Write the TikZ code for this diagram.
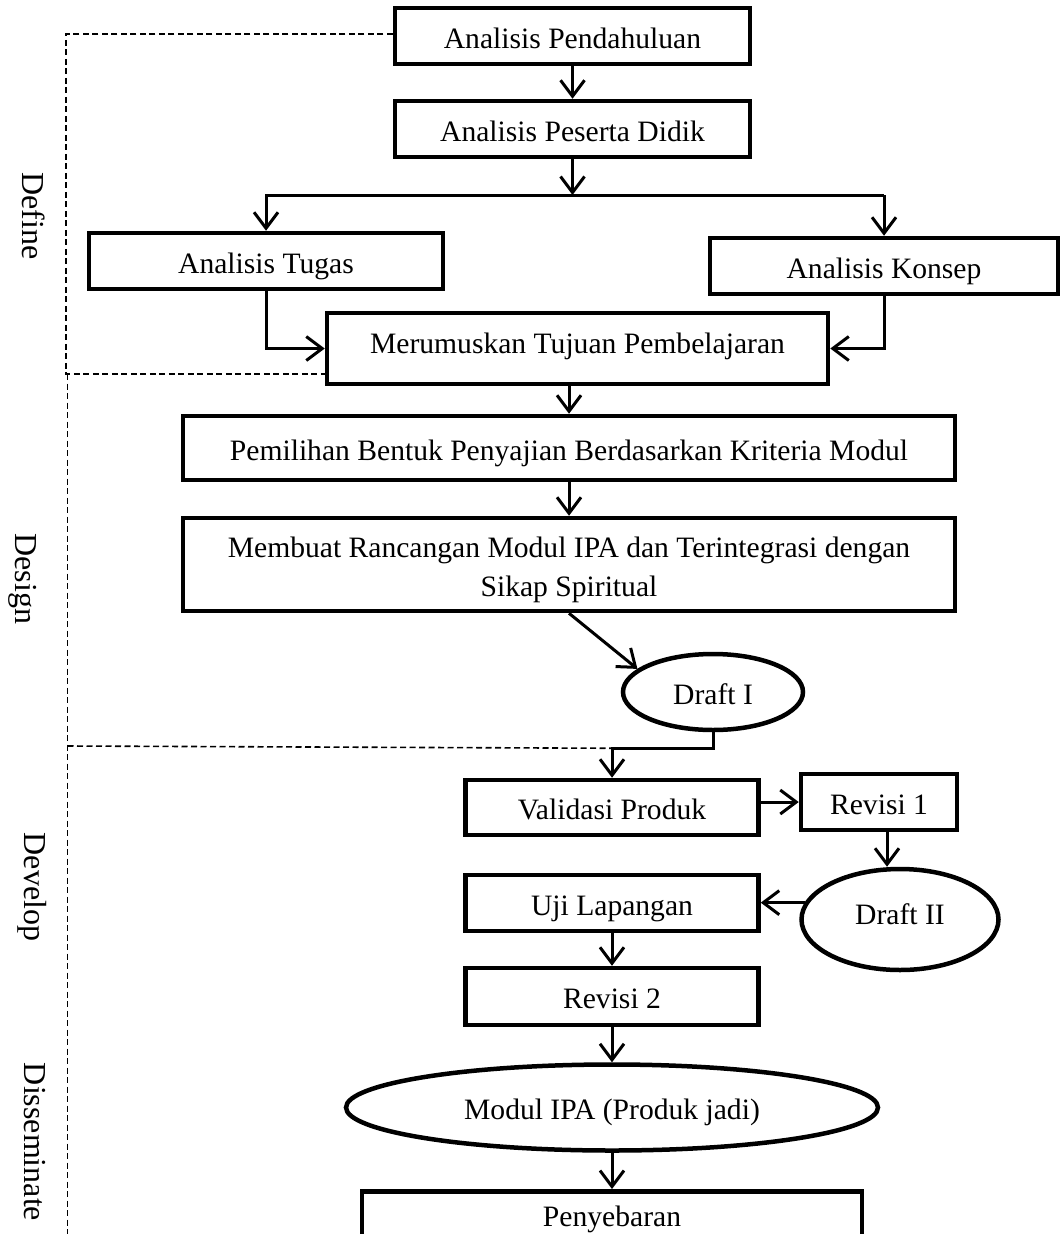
\documentclass[tikz,border=0pt]{standalone}
\usepackage{fontspec}
\setmainfont{Liberation Serif}
\usetikzlibrary{arrows.meta,shapes.geometric,calc}
\begin{document}
\begin{tikzpicture}[x=1pt,y=-1pt,
  mainfont/.style={font=\fontsize{29.6}{39}\selectfont},
  box/.style={draw,line width=4.5pt,rectangle,inner sep=0pt,align=center,mainfont},
  oval/.style={draw,line width=4.5pt,ellipse,inner sep=0pt,mainfont},
  tb/.style={text height=24pt,text depth=0pt},
  tup/.style={text height=24pt,text depth=15pt},
  arr/.style={line width=3pt,-{Straight Barb[length=16pt,width=24pt]}},
  dsh/.style={line width=1.6pt,dash pattern=on 6pt off 3.5pt},
  side/.style={rotate=-90,anchor=base,font=\fontsize{32}{38}\selectfont}]
\useasboundingbox (0,0) rectangle (1063,1234);
\clip (0,0) rectangle (1063,1234);

% side labels
\node[side] (lDefine) at (22,216) {Define};
\node[side] (lDesign) at (15,579) {Design};
\node[side] (lDevelop) at (24,887) {Develop};
\node[side] (lDissem) at (24,1142) {Disseminate};

% nodes
\node[box,tb,minimum width=355pt,minimum height=56pt] (b1) at (572.5,36) {Analisis Pendahuluan};
\node[box,tb,minimum width=355pt,minimum height=56pt] (b2) at (572.5,129) {Analisis Peserta Didik};
\coordinate (split) at (0,195);
\node[box,tb,minimum width=354pt,minimum height=56pt] (tugas) at (266,261) {Analisis Tugas};
\node[box,tb,minimum width=348pt,minimum height=56pt] (konsep) at (884,266) {Analisis Konsep};
\node[box,tup,minimum width=501pt,minimum height=71pt] (merum) at (577.5,348.5) {Merumuskan Tujuan Pembelajaran};
\node[box,tb,minimum width=772pt,minimum height=64pt] (pemil) at (569,448) {Pemilihan Bentuk Penyajian Berdasarkan Kriteria Modul};
\node[box,minimum width=772pt,minimum height=93pt] (membuat) at (569,564.5) {\rule{0pt}{31pt}Membuat Rancangan Modul IPA dan Terintegrasi dengan\\Sikap Spiritual};
\node[oval,tb,minimum width=180pt,minimum height=76pt] (d1) at (713,692) {Draft I};
\node[box,tb,minimum width=293pt,minimum height=55pt] (valid) at (612,807.5) {Validasi Produk};
\node[box,tb,minimum width=156pt,minimum height=56pt] (rev1) at (879,802) {Revisi 1};
\node[oval,tup,minimum width=197pt,minimum height=101pt] (d2) at (900,919.5) {Draft II};
\node[box,tb,minimum width=293pt,minimum height=56pt] (uji) at (612,903) {Uji Lapangan};
\node[box,tb,minimum width=293pt,minimum height=57pt] (rev2) at (612,996.5) {Revisi 2};
\node[oval,tb,minimum width=532pt,minimum height=86pt] (modul) at (612,1107.5) {Modul IPA (Produk jadi)};
\node[box,minimum width=500pt,minimum height=90pt,anchor=north] (peny) at (612,1189) {};
\node[mainfont,anchor=base,inner sep=0pt] (penyt) at (612,1226) {Penyebaran};

% connectors
\draw[arr] (b1.south) -- (b2.north);
\draw[arr] (b2.south) -- (b2.south |- split);
\draw[arr] (konsep.north |- split) -| (tugas.north);
\draw[arr] (konsep.north |- split) -- (konsep.north);
\draw[arr] (tugas.south) |- (merum.west);
\draw[arr] (konsep.south) |- (merum.east);
\draw[arr] (pemil.north |- merum.south) -- (pemil.north);
\draw[arr] (pemil.south) -- (membuat.north);
\draw[arr] (membuat.south) -- (d1.163);
\draw[arr] (d1.south) -- ++(0,16) coordinate (stem) -| (valid.north);
\draw[arr] (valid.east |- rev1.west) -- (rev1.west);
\path ([xshift=8pt]rev1.south) coordinate (r1s);
\draw[arr] (r1s) -- (r1s |- d2.north);
\draw[arr] (d2.170) -- (d2.170 -| uji.east);
\draw[arr] (uji.south) -- (rev2.north);
\draw[arr] (rev2.south) -- (modul.north);
\draw[arr] (modul.south) -- (peny.north);

% dashed phase boundaries
\coordinate (dtl) at (66,34);
\coordinate (dml) at (66,374);
\coordinate (dml2) at (67.5,374);
\coordinate (dbl) at (67.5,1240);
\coordinate (dll) at (67.5,746);
\draw[dsh] (b1.west |- dtl) -- (dtl) -- (dml) -- (merum.west |- dml);
\draw[dsh] (dml2) -- (dbl);
\draw[dsh] (dll) -- (valid.north |- stem);
\end{tikzpicture}
\end{document}
